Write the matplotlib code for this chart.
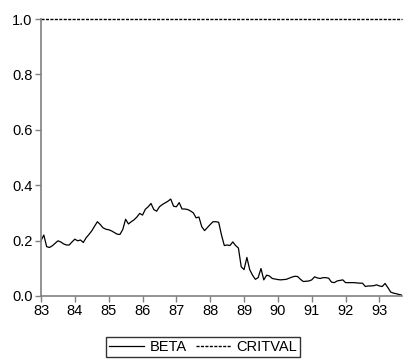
import matplotlib.pyplot as plt
import numpy as np

plt.rcParams['font.family'] = ['Liberation Sans', 'DejaVu Sans']

# monthly observations, 1983M01 - 1993M09
start_year = 83
beta = [
    0.200, 0.220, 0.178, 0.175, 0.181, 0.190, 0.199, 0.195, 0.188, 0.184, 0.184, 0.195,
    0.205, 0.199, 0.202, 0.193, 0.210, 0.222, 0.235, 0.252, 0.268, 0.258, 0.246, 0.241,
    0.239, 0.235, 0.229, 0.223, 0.222, 0.240, 0.277, 0.260, 0.268, 0.275, 0.285, 0.298,
    0.292, 0.313, 0.322, 0.334, 0.312, 0.306, 0.322, 0.330, 0.336, 0.342, 0.350, 0.324,
    0.322, 0.337, 0.314, 0.314, 0.312, 0.307, 0.300, 0.282, 0.285, 0.250, 0.236, 0.247,
    0.258, 0.268, 0.268, 0.266, 0.220, 0.182, 0.184, 0.182, 0.195, 0.182, 0.173, 0.105,
    0.095, 0.139, 0.095, 0.075, 0.060, 0.066, 0.099, 0.058, 0.075, 0.072, 0.063, 0.061,
    0.059, 0.058, 0.059, 0.060, 0.064, 0.068, 0.071, 0.070, 0.060, 0.052, 0.053, 0.054,
    0.058, 0.069, 0.065, 0.063, 0.066, 0.066, 0.064, 0.050, 0.048, 0.054, 0.056, 0.058,
    0.048, 0.048, 0.048, 0.048, 0.047, 0.046, 0.046, 0.034, 0.036, 0.036, 0.037, 0.040,
    0.036, 0.034, 0.045, 0.030, 0.014, 0.010, 0.008, 0.005, 0.003,
]
critval = 1.0
year_ticks = list(range(83, 94))
y_ticks = [0.0, 0.2, 0.4, 0.6, 0.8, 1.0]

t = start_year + np.arange(len(beta)) / 12.0

fig = plt.figure(figsize=(4.04, 3.60), dpi=100)
ax = fig.add_axes([0.1015, 0.178, 0.8935, 0.769])

ax.plot(t, beta, color='black', lw=0.9, label='BETA')
ax.plot(t, np.full(len(t), critval), color='black', lw=1.0,
        linestyle=(0, (2.2, 1.0)), label='CRITVAL', clip_on=False)

ax.set_xlim(t[0], t[-1])
ax.set_ylim(0, 1.0)
ax.set_xticks(year_ticks)
ax.set_xticklabels([str(y) for y in year_ticks])
ax.set_yticks(y_ticks)
ax.set_yticklabels([f'{v:.1f}' for v in y_ticks])

for side in ['top', 'right']:
    ax.spines[side].set_visible(False)
for side in ['left', 'bottom']:
    ax.spines[side].set_color('#808080')
    ax.spines[side].set_linewidth(1.2)

ax.tick_params(axis='both', direction='out', length=4, width=1,
               color='#808080', labelsize=10.5, pad=2)

fig.legend(loc='center', bbox_to_anchor=(203 / 404, 1 - 347 / 360), ncol=2,
           frameon=True, fancybox=False, edgecolor='black', fontsize=10.5,
           handlelength=2.4, handletextpad=0.4, columnspacing=0.6,
           borderpad=0.2, borderaxespad=0)

fig.savefig('out.png', dpi=100)
